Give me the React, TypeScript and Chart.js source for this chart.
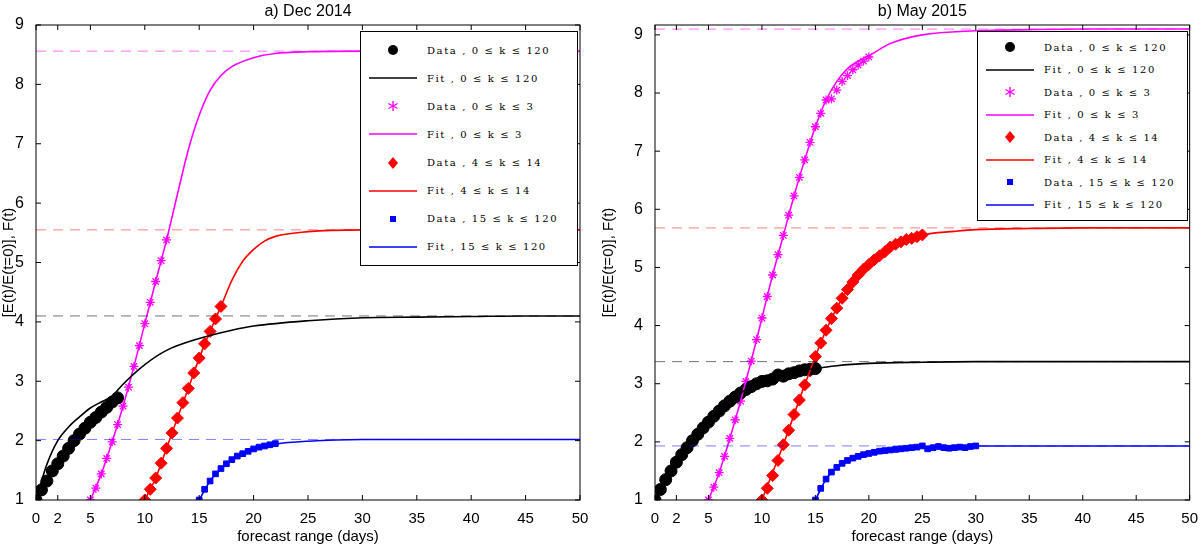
import React, { useEffect, useRef } from "react";
import { Chart, registerables } from "chart.js";
Chart.register(...registerables);

const xTicks = [0, 2, 5, 10, 15, 20, 25, 30, 35, 40, 45, 50];
const yTicks = [1, 2, 3, 4, 5, 6, 7, 8, 9];

// ---- Panel a) Dec 2014 ----
const aBlackX0 = 0;
const aBlackData = [1, 1.17, 1.32, 1.49, 1.61, 1.74, 1.87, 2.0, 2.11, 2.21, 2.31, 2.39, 2.48, 2.56, 2.65, 2.72];
const aBlackFitX = [0, 1, 2, 3, 4, 5, 6, 7, 8, 10, 12, 15, 18, 20, 25, 30, 35, 40, 45, 50];
const aBlackFitY = [1, 1.6, 2.0, 2.23, 2.4, 2.55, 2.65, 2.75, 2.95, 3.28, 3.52, 3.72, 3.86, 3.93, 4.02, 4.07, 4.08, 4.09, 4.1, 4.1];
const aMagX0 = 5;
const aMagData = [1, 1.2, 1.44, 1.7, 1.98, 2.27, 2.58, 2.9, 3.25, 3.6, 3.97, 4.33, 4.68, 5.03, 5.38];
const aMagFitX = [5, 6, 7, 8, 9, 10, 11, 12, 13, 14, 15, 16, 17, 18, 20, 22, 25, 30, 40, 50];
const aMagFitY = [1, 1.44, 1.98, 2.58, 3.25, 3.97, 4.68, 5.38, 6.15, 6.9, 7.48, 7.9, 8.15, 8.3, 8.45, 8.52, 8.55, 8.56, 8.56, 8.56];
const aRedX0 = 10;
const aRedData = [1, 1.18, 1.37, 1.62, 1.87, 2.13, 2.38, 2.64, 2.88, 3.14, 3.39, 3.63, 3.84, 4.05, 4.26];
const aRedFitX = [10, 11, 12, 13, 14, 15, 16, 17, 18, 19, 20, 21, 22, 25, 30, 40, 50];
const aRedFitY = [1, 1.37, 1.87, 2.38, 2.88, 3.39, 3.84, 4.26, 4.7, 5.02, 5.22, 5.36, 5.44, 5.52, 5.55, 5.55, 5.55];
const aBlueX0 = 15;
const aBlueData = [1, 1.18, 1.32, 1.44, 1.53, 1.61, 1.68, 1.74, 1.78, 1.82, 1.86, 1.89, 1.91, 1.93, 1.95];
const aBlueFitX = [15, 16, 17, 18, 19, 20, 22, 25, 30, 40, 50];
const aBlueFitY = [1, 1.32, 1.53, 1.68, 1.78, 1.86, 1.94, 1.99, 2.02, 2.02, 2.02];
const aAsym = [4.1, 8.56, 5.55, 2.02];

// ---- Panel b) May 2015 ----
const bBlackX0 = 0;
const bBlackData = [1, 1.18, 1.35, 1.5, 1.65, 1.78, 1.9, 2.02, 2.13, 2.24, 2.34, 2.44, 2.53, 2.62, 2.7, 2.77, 2.84, 2.9, 2.95, 3.0, 3.04, 3.05, 3.08, 3.15, 3.13, 3.17, 3.19, 3.22, 3.24, 3.25, 3.26];
const bBlackFitX = [0, 2, 4, 6, 8, 10, 12, 14, 15, 17, 20, 25, 30, 40, 50];
const bBlackFitY = [1, 1.65, 2.13, 2.53, 2.84, 3.04, 3.13, 3.24, 3.26, 3.31, 3.35, 3.37, 3.38, 3.38, 3.38];
const bMagX0 = 5;
const bMagData = [1, 1.22, 1.47, 1.75, 2.06, 2.38, 2.7, 3.04, 3.39, 3.76, 4.13, 4.5, 4.87, 5.22, 5.55, 5.9, 6.23, 6.55, 6.85, 7.15, 7.42, 7.65, 7.88, 7.9, 8.05, 8.2, 8.3, 8.4, 8.48, 8.55, 8.62];
const bMagFitX = [5, 6, 7, 8, 9, 10, 11, 12, 13, 14, 15, 16, 17, 18, 19, 20, 22, 25, 30, 35, 40, 50];
const bMagFitY = [1, 1.47, 2.06, 2.7, 3.39, 4.13, 4.87, 5.55, 6.23, 6.85, 7.42, 7.88, 8.2, 8.42, 8.55, 8.64, 8.85, 9.0, 9.07, 9.09, 9.1, 9.1];
const bRedX0 = 10;
const bRedData = [1, 1.2, 1.42, 1.68, 1.95, 2.2, 2.47, 2.72, 2.98, 3.22, 3.47, 3.7, 3.92, 4.12, 4.3, 4.47, 4.62, 4.75, 4.87, 4.97, 5.05, 5.13, 5.2, 5.27, 5.35, 5.4, 5.44, 5.48, 5.5, 5.53, 5.56];
const bRedFitX = [10, 12, 14, 16, 18, 20, 22, 25, 28, 30, 35, 40, 50];
const bRedFitY = [1, 1.95, 2.98, 3.92, 4.62, 5.05, 5.35, 5.56, 5.62, 5.65, 5.67, 5.68, 5.68];
const bBlueX0 = 15;
const bBlueData = [1, 1.2, 1.36, 1.48, 1.56, 1.63, 1.68, 1.72, 1.75, 1.78, 1.8, 1.82, 1.84, 1.85, 1.86, 1.87, 1.88, 1.89, 1.9, 1.91, 1.93, 1.88, 1.9, 1.92, 1.9, 1.89, 1.9, 1.91, 1.9, 1.92, 1.93];
const bBlueFitX = [15, 16, 17, 18, 20, 22, 25, 30, 40, 50];
const bBlueFitY = [1, 1.36, 1.56, 1.68, 1.8, 1.86, 1.9, 1.93, 1.93, 1.93];
const bAsym = [3.38, 9.1, 5.68, 1.93];

const STEP = 0.5;
const toPts = (x0: number, ys: number[]) => ys.map((y, i) => ({ x: x0 + i * STEP, y }));
const zip = (xs: number[], ys: number[]) => xs.map((x, i) => ({ x, y: ys[i] }));

const COLORS = ["#000000", "#ff00ff", "#ff0000", "#0000ff"];
const DASH = ["rgba(0,0,0,0.55)", "rgba(255,0,255,0.55)", "rgba(255,0,0,0.5)", "rgba(0,0,255,0.5)"];
const STYLES: any[] = ["circle", "star", "rectRot", "rect"];
const RADII = [6, 4.5, 6, 4];

function buildDatasets(data: { x0: number; ys: number[] }[], fits: { xs: number[]; ys: number[] }[], asym: number[]) {
  const ds: any[] = [];
  asym.forEach((a, i) =>
    ds.push({ data: [{ x: 0, y: a }, { x: 50, y: a }], showLine: true, borderColor: DASH[i], borderWidth: 1, borderDash: [10, 7], pointRadius: 0 })
  );
  fits.forEach((f, i) =>
    ds.push({ data: zip(f.xs, f.ys), showLine: true, borderColor: COLORS[i], borderWidth: 1.6, pointRadius: 0, cubicInterpolationMode: "monotone" })
  );
  data.forEach((d, i) =>
    ds.push({
      data: toPts(d.x0, d.ys), showLine: false, pointStyle: STYLES[i], pointRadius: RADII[i],
      backgroundColor: COLORS[i], borderColor: COLORS[i], borderWidth: i === 1 ? 1.3 : 1,
    })
  );
  return ds;
}

function makeConfig(title: string, yMax: number, yWidth: number, rightPad: number, ds: any[]): any {
  const boxPlugin = {
    id: "box",
    afterDraw(chart: any) {
      const { ctx, chartArea: a, scales } = chart;
      ctx.save();
      ctx.strokeStyle = "#000";
      ctx.lineWidth = 1;
      ctx.strokeRect(a.left, a.top, a.right - a.left, a.bottom - a.top);
      ctx.beginPath();
      xTicks.forEach((t) => {
        const px = scales.x.getPixelForValue(t);
        ctx.moveTo(px, a.bottom); ctx.lineTo(px, a.bottom - 5);
        ctx.moveTo(px, a.top); ctx.lineTo(px, a.top + 5);
      });
      yTicks.forEach((t) => {
        const py = scales.y.getPixelForValue(t);
        ctx.moveTo(a.left, py); ctx.lineTo(a.left + 5, py);
        ctx.moveTo(a.right, py); ctx.lineTo(a.right - 5, py);
      });
      ctx.stroke();
      ctx.fillStyle = "#000";
      ctx.font = "16px 'Liberation Sans', Arial, sans-serif";
      ctx.textAlign = "center";
      ctx.textBaseline = "middle";
      ctx.fillText(title, (a.left + a.right) / 2, 12);
      ctx.restore();
    },
  };
  return {
    type: "scatter",
    data: { datasets: ds },
    plugins: [boxPlugin],
    options: {
      animation: false,
      responsive: false,
      layout: { padding: { top: 25, right: rightPad, left: 0, bottom: 0 } },
      plugins: { legend: { display: false }, tooltip: { enabled: false } },
      scales: {
        x: {
          type: "linear", min: 0, max: 50,
          afterBuildTicks: (s: any) => { s.ticks = xTicks.map((v) => ({ value: v })); },
          grid: { display: false },
          border: { display: false },
          ticks: { color: "#000", font: { size: 15, family: "'Liberation Sans', Arial" }, padding: 2, maxRotation: 0, autoSkip: false },
          title: { display: true, text: "forecast range (days)", color: "#000", font: { size: 15, family: "'Liberation Sans', Arial" }, padding: { top: 0 } },
          afterFit: (s: any) => { s.height = 50; },
        },
        y: {
          type: "linear", min: 1, max: yMax,
          afterBuildTicks: (s: any) => { s.ticks = yTicks.map((v) => ({ value: v })); },
          grid: { display: false },
          border: { display: false },
          ticks: { color: "#000", font: { size: 16, family: "'Liberation Sans', Arial" }, padding: 4 },
          title: { display: true, text: "[E(t)/E(t=0)], F(t)", color: "#000", font: { size: 15, family: "'Liberation Sans', Arial" }, padding: 0 },
          afterFit: (s: any) => { s.width = yWidth; },
        },
      },
    },
  };
}

const LEGEND = [
  { kind: "circle", c: 0, t: "Data , 0 ≤ k ≤ 120" },
  { kind: "line", c: 0, t: "Fit , 0 ≤ k ≤ 120" },
  { kind: "star", c: 1, t: "Data , 0 ≤ k ≤ 3" },
  { kind: "line", c: 1, t: "Fit , 0 ≤ k ≤ 3" },
  { kind: "diamond", c: 2, t: "Data , 4 ≤ k ≤ 14" },
  { kind: "line", c: 2, t: "Fit , 4 ≤ k ≤ 14" },
  { kind: "square", c: 3, t: "Data , 15 ≤ k ≤ 120" },
  { kind: "line", c: 3, t: "Fit , 15 ≤ k ≤ 120" },
];

function Marker({ kind, color }: { kind: string; color: string }) {
  return (
    <svg width="60" height="14" style={{ flex: "none" }}>
      {kind === "line" && <line x1="8" y1="7" x2="56" y2="7" stroke={color} strokeWidth="1.6" />}
      {kind === "circle" && <circle cx="32" cy="7" r="5" fill={color} />}
      {kind === "square" && <rect x="29" y="4" width="6" height="6" fill={color} />}
      {kind === "diamond" && <polygon points="32,1 37,7 32,13 27,7" fill={color} />}
      {kind === "star" && (
        <g stroke={color} strokeWidth="1.4">
          <line x1="32" y1="2" x2="32" y2="12" />
          <line x1="27.5" y1="4.5" x2="36.5" y2="9.5" />
          <line x1="27.5" y1="9.5" x2="36.5" y2="4.5" />
        </g>
      )}
    </svg>
  );
}

function Legend({ left, top, width, height }: any) {
  return (
    <div style={{
      position: "absolute", left, top, width, height, border: "1px solid #000", background: "#fff",
      boxSizing: "border-box", display: "flex", flexDirection: "column", justifyContent: "space-around", padding: "4px 0",
    }}>
      {LEGEND.map((e, i) => (
        <div key={i} style={{ display: "flex", alignItems: "center", height: 14 }}>
          <Marker kind={e.kind} color={COLORS[e.c]} />
          <span style={{ fontFamily: "'DejaVu Serif', serif", fontSize: 10, letterSpacing: 1.6, whiteSpace: "nowrap", marginLeft: 6 }}>{e.t}</span>
        </div>
      ))}
    </div>
  );
}

function Panel({ config, left }: any) {
  const ref = useRef<HTMLCanvasElement>(null);
  useEffect(() => {
    const ch = new Chart(ref.current!, config);
    return () => ch.destroy();
  }, []);
  return <canvas ref={ref} width={600} height={550} style={{ position: "absolute", left, top: 0 }} />;
}

export default function App() {
  const aDs = buildDatasets(
    [{ x0: aBlackX0, ys: aBlackData }, { x0: aMagX0, ys: aMagData }, { x0: aRedX0, ys: aRedData }, { x0: aBlueX0, ys: aBlueData }],
    [{ xs: aBlackFitX, ys: aBlackFitY }, { xs: aMagFitX, ys: aMagFitY }, { xs: aRedFitX, ys: aRedFitY }, { xs: aBlueFitX, ys: aBlueFitY }],
    aAsym
  );
  const bDs = buildDatasets(
    [{ x0: bBlackX0, ys: bBlackData }, { x0: bMagX0, ys: bMagData }, { x0: bRedX0, ys: bRedData }, { x0: bBlueX0, ys: bBlueData }],
    [{ xs: bBlackFitX, ys: bBlackFitY }, { xs: bMagFitX, ys: bMagFitY }, { xs: bRedFitX, ys: bRedFitY }, { xs: bBlueFitX, ys: bBlueFitY }],
    bAsym
  );
  return (
    <div style={{ position: "fixed", left: 0, top: 0, width: 1200, height: 550, background: "#fff" }}>
      <Panel left={0} config={makeConfig("a) Dec 2014", 9, 36, 20, aDs)} />
      <Panel left={600} config={makeConfig("b) May 2015", 9.17, 55, 10, bDs)} />
      <Legend left={360} top={31} width={218} height={235} />
      <Legend left={977} top={31} width={211} height={190} />
    </div>
  );
}
